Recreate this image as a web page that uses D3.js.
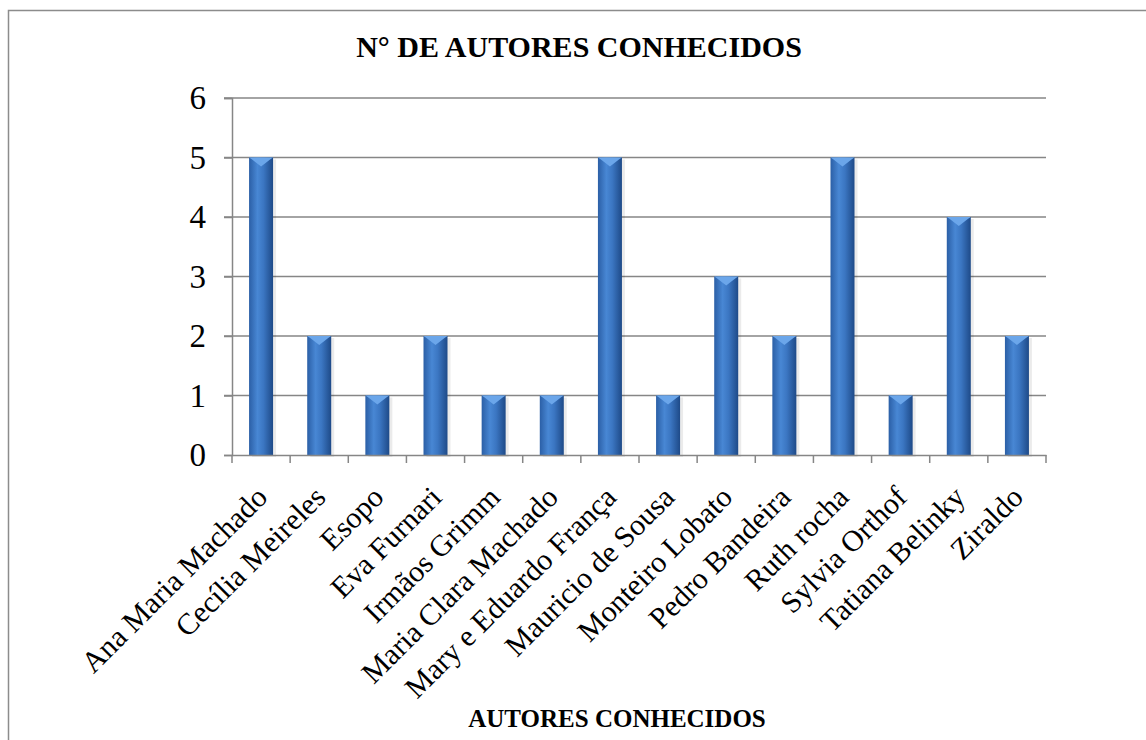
<!DOCTYPE html>
<html lang="pt">
<head>
    <meta charset="utf-8">
    <title>N° de autores conhecidos</title>
    <script src="https://d3js.org/d3.v7.min.js"></script>
    <style>
        body { margin: 0; background: #fff; }
        svg text { font-family: "Liberation Serif", "DejaVu Serif", serif; fill: #000; }
    </style>
</head>
<body>
<div id="chart"></div>
<script>
var autores = ["Ana Maria Machado", "Cecília Meireles", "Esopo", "Eva Furnari", "Irmãos Grimm",
    "Maria Clara Machado", "Mary e Eduardo França", "Mauricio de Sousa", "Monteiro Lobato",
    "Pedro Bandeira", "Ruth rocha", "Sylvia Orthof", "Tatiana Belinky", "Ziraldo"];
var quantidades = [5, 2, 1, 2, 1, 1, 5, 1, 3, 2, 5, 1, 4, 2];
var yTicks = [0, 1, 2, 3, 4, 5, 6];

var width = 1146, height = 740,
    margin = {top: 98, right: 100, bottom: 285, left: 232};

var svg = d3.select("#chart").append("svg")
    .attr("width", width).attr("height", height);

// moldura (só aparecem os lados de cima e da esquerda)
svg.append("rect")
    .attr("x", 8.5).attr("y", 10.5)
    .attr("width", 1200).attr("height", 800)
    .attr("fill", "none").attr("stroke", "#8c8c8c").attr("stroke-width", 1.5);

var defs = svg.append("defs");
var grad = defs.append("linearGradient").attr("id", "barra")
    .attr("x1", "0%").attr("x2", "100%").attr("y1", "0%").attr("y2", "0%");
grad.append("stop").attr("offset", "0%").attr("stop-color", "#2b5fa6");
grad.append("stop").attr("offset", "35%").attr("stop-color", "#4887d4");
grad.append("stop").attr("offset", "60%").attr("stop-color", "#3b76c2");
grad.append("stop").attr("offset", "100%").attr("stop-color", "#1e4a88");

var x = d3.scaleBand().domain(autores)
    .range([margin.left, width - margin.right]);
var y = d3.scaleLinear().domain([0, 6])
    .range([height - margin.bottom, margin.top]);

// grade horizontal
svg.append("g")
    .selectAll("line").data(yTicks.filter(function (d) { return d > 0; }))
    .enter().append("line")
    .attr("x1", margin.left - 8).attr("x2", width - margin.right)
    .attr("y1", function (d) { return y(d); }).attr("y2", function (d) { return y(d); })
    .attr("stroke", "#868686").attr("stroke-width", 1.5);

// eixo y
var yAxis = svg.append("g")
    .attr("transform", "translate(" + margin.left + ",0)")
    .call(d3.axisLeft(y).tickValues(yTicks).tickFormat(d3.format("d")).tickSize(8).tickPadding(18));
yAxis.select(".domain").attr("stroke", "#868686").attr("stroke-width", 1.5);
yAxis.selectAll(".tick line").attr("stroke", "#868686").attr("stroke-width", 1.5);
yAxis.selectAll("text").style("font-size", "33px");

// barras
var bw = 24;
var barras = svg.append("g").selectAll("g").data(autores)
    .enter().append("g");

barras.append("rect")
    .attr("x", function (d) { return x(d) + x.bandwidth() / 2 - bw / 2 + 3; })
    .attr("y", function (d, i) { return y(quantidades[i]) + 2; })
    .attr("width", bw).attr("height", function (d, i) { return y(0) - y(quantidades[i]); })
    .attr("fill", "#000").attr("opacity", 0.08);

barras.append("rect")
    .attr("x", function (d) { return x(d) + x.bandwidth() / 2 - bw / 2; })
    .attr("y", function (d, i) { return y(quantidades[i]); })
    .attr("width", bw).attr("height", function (d, i) { return y(0) - y(quantidades[i]); })
    .attr("fill", "url(#barra)");

barras.append("path")
    .attr("d", function (d, i) {
        var cx = x(d) + x.bandwidth() / 2, top = y(quantidades[i]);
        return "M" + (cx - bw / 2) + "," + top + "L" + (cx + bw / 2) + "," + top +
            "L" + (cx + bw / 2 - 3) + "," + (top + 2) + "L" + cx + "," + (top + 9) +
            "L" + (cx - bw / 2 + 3) + "," + (top + 2) + "Z";
    })
    .attr("fill", "#6ba6ea");

// eixo x
var xAxis = svg.append("g")
    .attr("transform", "translate(0," + y(0) + ")")
    .call(d3.axisBottom(x).tickSize(0).tickFormat(""));
xAxis.select(".domain").attr("stroke", "#868686").attr("stroke-width", 1.5);

var limites = autores.map(function (d) { return x(d); }).concat([x.range()[1]]);
svg.append("g").selectAll("line").data(limites)
    .enter().append("line")
    .attr("x1", function (d) { return d; }).attr("x2", function (d) { return d; })
    .attr("y1", y(0)).attr("y2", y(0) + 8)
    .attr("stroke", "#868686").attr("stroke-width", 1.5);

svg.append("g").selectAll("text").data(autores)
    .enter().append("text")
    .attr("transform", function (d) {
        return "translate(" + (x(d) + x.bandwidth() / 2 + 8) + "," + (y(0) + 44) + ") rotate(-45)";
    })
    .attr("text-anchor", "end")
    .style("font-size", "30px")
    .text(function (d) { return d; });

// títulos
svg.append("text")
    .attr("x", 579).attr("y", 57)
    .attr("text-anchor", "middle")
    .style("font-size", "30px").style("font-weight", "bold")
    .text("N° DE AUTORES CONHECIDOS");

svg.append("text")
    .attr("x", 617).attr("y", 727)
    .attr("text-anchor", "middle")
    .style("font-size", "25px").style("font-weight", "bold")
    .text("AUTORES CONHECIDOS");
</script>
</body>
</html>
